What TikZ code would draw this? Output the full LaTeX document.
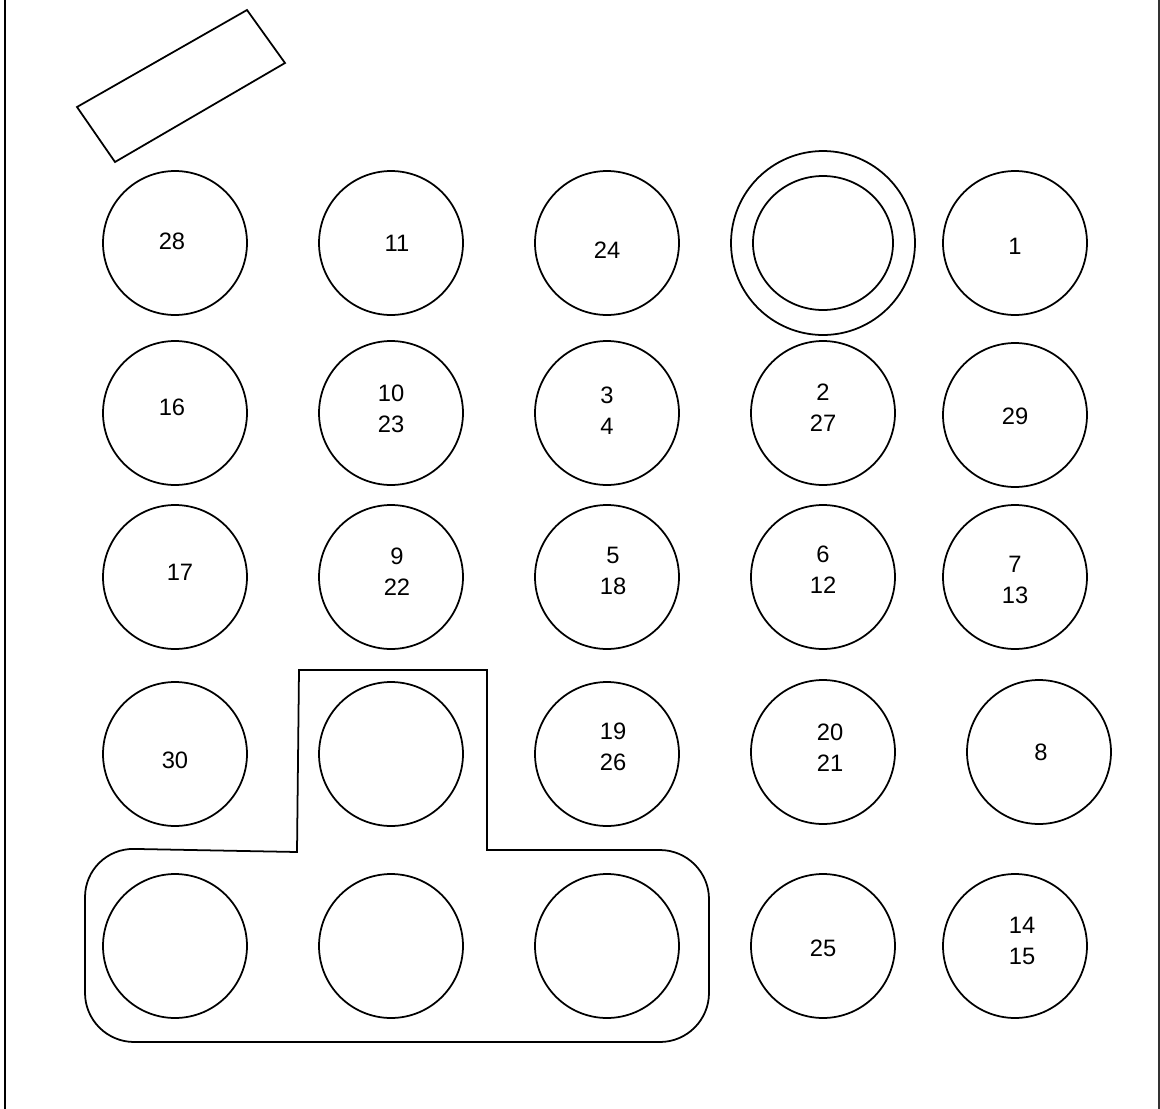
\documentclass[tikz,border=0pt]{standalone}
\usepackage{fontspec}
\setmainfont{Liberation Sans}
\begin{document}
\begin{tikzpicture}[x=0.02cm, y=-0.02cm, line width=1pt,
  hole/.style={draw, circle, minimum size=2.88cm, inner sep=0pt},
  num/.style={font=\fontsize{13.5}{17.5}\selectfont, align=center, inner sep=0pt}]
\useasboundingbox (0,0) rectangle (1160,1109);
% frame sides
\draw (5,0) -- (5,1109);
\draw[black!80] (1159,0) -- (1159,1109);
% tilted bar at the top
\draw (77,107) -- (247,10) -- (285,63) -- (115,162) -- cycle;
% grid of holes
\foreach \n/\x/\y in {c28/175/243, c11/391/243, c24/607/243, c1/1015/243,
    c16/175/413, c10/391/413, c3/607/413, c2/823/413, c29/1015/415,
    c17/175/577, c9/391/577, c5/607/577, c6/823/577, c7/1015/577,
    c30/175/754, cE/391/754, c19/607/754, c20/823/752, c8/1039/752,
    cA/175/946, cB/391/946, cC/607/946, c25/823/946, c14/1015/946}
  \node[hole] (\n) at (\x,\y) {};
% big ring
\node[hole, minimum size=3.68cm] (ring) at (823,243) {};
\draw (ring.center) ellipse [x radius=70, y radius=67];
% numbers
\foreach \n/\x/\y/\t in {l28/172/241/28, l11/397/243/11, l24/607/250/24, l1/1015/246/1,
    l16/172/407/16, l10/391/409/{10\\23}, l3/607/411/{3\\4}, l2/823/408/{2\\27}, l29/1015/416/29,
    l17/180/572/17, l9/397/572/{9\\22}, l5/613/571/{5\\18}, l6/823/570/{6\\12}, l7/1015/580/{7\\13},
    l30/175/760/30, l19/613/747/{19\\26}, l20/830/748/{20\\21}, l8/1041/752/8,
    l25/823/948/25, l14/1022/941/{14\\15}}
  \node[num] (\n) at (\x,\y) {\t};
% tray outline round the lower left holes
\draw (299,670) -- (487,670) -- (487,850) [rounded corners=28] -- (709,850)
  -- (709,1042) -- (85,1042) -- (85,848) [sharp corners] -- (297,852) -- cycle;
\end{tikzpicture}
\end{document}
